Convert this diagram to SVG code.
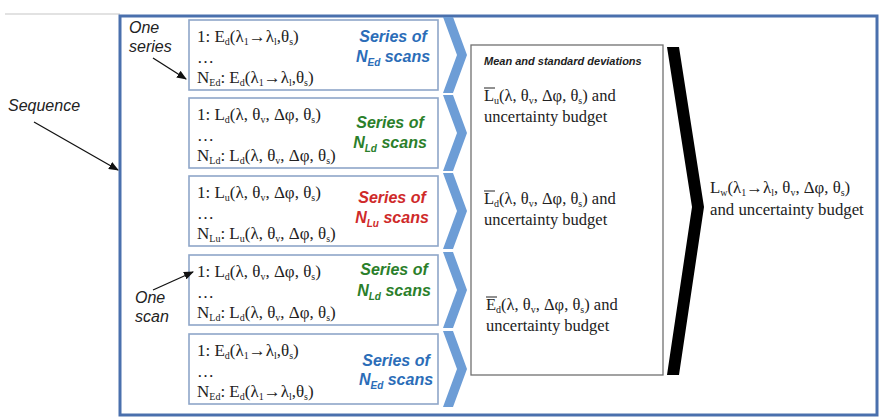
<svg xmlns="http://www.w3.org/2000/svg" width="884" height="418" viewBox="0 0 884 418">
<defs>
<marker id="ah" markerWidth="10" markerHeight="8" refX="9" refY="4" orient="auto" markerUnits="userSpaceOnUse">
<path d="M0,0 L10,4 L0,8 Z" fill="#111"/>
</marker>
<style>
.frame{fill:#fff;stroke:#4a70ad;stroke-width:3}
.box{fill:#fff;stroke:#8ea6c9;stroke-width:1.6}
.mbox{fill:#fff;stroke:#707070;stroke-width:1.3}
.chev{fill:#6d9dd6}
.f{font-family:"Liberation Serif","Times New Roman",serif;font-size:17px;fill:#222}
.m{font-family:"Liberation Serif","Times New Roman",serif;font-size:16.5px;fill:#222}
.s{font-size:10px}
.sl{font-family:"Liberation Sans",Arial,sans-serif;font-size:16px;font-weight:bold;font-style:italic;text-anchor:middle}
.ss{font-size:10px}
.blue{fill:#2b6db8}
.green{fill:#2b7f2b}
.red{fill:#cf2a2a}
.lab{font-family:"Liberation Sans",Arial,sans-serif;font-size:16px;font-style:italic;fill:#222}
.hd{font-family:"Liberation Sans",Arial,sans-serif;font-size:11px;font-weight:bold;font-style:italic;fill:#222}
.ln{stroke:#111;stroke-width:1.3;fill:none;marker-end:url(#ah)}
.ov{stroke:#222;stroke-width:1}
</style>
</defs>
<rect width="884" height="418" fill="#fff"/>
<line x1="5" y1="14" x2="120" y2="14" stroke="#d8d8d8" stroke-width="1.5"/>
<g id="sequence">
<rect class="frame" x="120" y="16" width="757" height="399"/>
</g>

<g id="series1">
<rect class="box" x="189" y="20" width="249" height="70"/>
<text class="f" x="197" y="42">1: E<tspan class="s" dy="3">d</tspan><tspan dy="-3">(λ</tspan><tspan class="s" dy="3">1</tspan><tspan dy="-3">→λ</tspan><tspan class="s" dy="3">l</tspan><tspan dy="-3">,θ</tspan><tspan class="s" dy="3">s</tspan><tspan dy="-3">)</tspan></text>
<text class="f" x="197" y="63">…</text>
<text class="f" x="197" y="83">N<tspan class="s" dy="3">Ed</tspan><tspan dy="-3">: E</tspan><tspan class="s" dy="3">d</tspan><tspan dy="-3">(λ</tspan><tspan class="s" dy="3">1</tspan><tspan dy="-3">→λ</tspan><tspan class="s" dy="3">l</tspan><tspan dy="-3">,θ</tspan><tspan class="s" dy="3">s</tspan><tspan dy="-3">)</tspan></text>
<text class="sl blue" x="393" y="42">Series of</text>
<text class="sl blue" x="393" y="62">N<tspan class="ss" dy="4">Ed</tspan><tspan dy="-4"> scans</tspan></text>
</g>

<g id="series2">
<rect class="box" x="189" y="98" width="249" height="70"/>
<text class="f" x="197" y="120">1: L<tspan class="s" dy="3">d</tspan><tspan dy="-3">(λ, θ</tspan><tspan class="s" dy="3">v</tspan><tspan dy="-3">, Δφ, θ</tspan><tspan class="s" dy="3">s</tspan><tspan dy="-3">)</tspan></text>
<text class="f" x="197" y="141">…</text>
<text class="f" x="197" y="161">N<tspan class="s" dy="3">Ld</tspan><tspan dy="-3">: L</tspan><tspan class="s" dy="3">d</tspan><tspan dy="-3">(λ, θ</tspan><tspan class="s" dy="3">v</tspan><tspan dy="-3">, Δφ, θ</tspan><tspan class="s" dy="3">s</tspan><tspan dy="-3">)</tspan></text>
<text class="sl green" x="390" y="128">Series of</text>
<text class="sl green" x="390" y="148">N<tspan class="ss" dy="4">Ld</tspan><tspan dy="-4"> scans</tspan></text>
</g>

<g id="series3">
<rect class="box" x="189" y="176" width="249" height="70"/>
<text class="f" x="197" y="198">1: L<tspan class="s" dy="3">u</tspan><tspan dy="-3">(λ, θ</tspan><tspan class="s" dy="3">v</tspan><tspan dy="-3">, Δφ, θ</tspan><tspan class="s" dy="3">s</tspan><tspan dy="-3">)</tspan></text>
<text class="f" x="197" y="219">…</text>
<text class="f" x="197" y="239">N<tspan class="s" dy="3">Lu</tspan><tspan dy="-3">: L</tspan><tspan class="s" dy="3">u</tspan><tspan dy="-3">(λ, θ</tspan><tspan class="s" dy="3">v</tspan><tspan dy="-3">, Δφ, θ</tspan><tspan class="s" dy="3">s</tspan><tspan dy="-3">)</tspan></text>
<text class="sl red" x="392" y="203">Series of</text>
<text class="sl red" x="392" y="223">N<tspan class="ss" dy="4">Lu</tspan><tspan dy="-4"> scans</tspan></text>
</g>

<g id="series4">
<rect class="box" x="189" y="255" width="249" height="70"/>
<text class="f" x="197" y="277">1: L<tspan class="s" dy="3">d</tspan><tspan dy="-3">(λ, θ</tspan><tspan class="s" dy="3">v</tspan><tspan dy="-3">, Δφ, θ</tspan><tspan class="s" dy="3">s</tspan><tspan dy="-3">)</tspan></text>
<text class="f" x="197" y="298">…</text>
<text class="f" x="197" y="318">N<tspan class="s" dy="3">Ld</tspan><tspan dy="-3">: L</tspan><tspan class="s" dy="3">d</tspan><tspan dy="-3">(λ, θ</tspan><tspan class="s" dy="3">v</tspan><tspan dy="-3">, Δφ, θ</tspan><tspan class="s" dy="3">s</tspan><tspan dy="-3">)</tspan></text>
<text class="sl green" x="394" y="275">Series of</text>
<text class="sl green" x="394" y="296">N<tspan class="ss" dy="4">Ld</tspan><tspan dy="-4"> scans</tspan></text>
</g>

<g id="series5">
<rect class="box" x="189" y="334" width="249" height="70"/>
<text class="f" x="197" y="356">1: E<tspan class="s" dy="3">d</tspan><tspan dy="-3">(λ</tspan><tspan class="s" dy="3">1</tspan><tspan dy="-3">→λ</tspan><tspan class="s" dy="3">l</tspan><tspan dy="-3">,θ</tspan><tspan class="s" dy="3">s</tspan><tspan dy="-3">)</tspan></text>
<text class="f" x="197" y="377">…</text>
<text class="f" x="197" y="397">N<tspan class="s" dy="3">Ed</tspan><tspan dy="-3">: E</tspan><tspan class="s" dy="3">d</tspan><tspan dy="-3">(λ</tspan><tspan class="s" dy="3">1</tspan><tspan dy="-3">→λ</tspan><tspan class="s" dy="3">l</tspan><tspan dy="-3">,θ</tspan><tspan class="s" dy="3">s</tspan><tspan dy="-3">)</tspan></text>
<text class="sl blue" x="396" y="366">Series of</text>
<text class="sl blue" x="396" y="385">N<tspan class="ss" dy="4">Ed</tspan><tspan dy="-4"> scans</tspan></text>
</g>

<g id="mean">
<rect class="mbox" x="471" y="45" width="192" height="330"/>
<text class="hd" x="484" y="65">Mean and standard deviations</text>
<line class="ov" x1="484" y1="88" x2="495" y2="88"/>
<text class="m" x="484" y="101">L<tspan class="s" dy="3">u</tspan><tspan dy="-3">(λ, θ</tspan><tspan class="s" dy="3">v</tspan><tspan dy="-3">, Δφ, θ</tspan><tspan class="s" dy="3">s</tspan><tspan dy="-3">) and</tspan></text>
<text class="m" x="484" y="122">uncertainty budget</text>
<line class="ov" x1="484" y1="191" x2="495" y2="191"/>
<text class="m" x="484" y="204">L<tspan class="s" dy="3">d</tspan><tspan dy="-3">(λ, θ</tspan><tspan class="s" dy="3">v</tspan><tspan dy="-3">, Δφ, θ</tspan><tspan class="s" dy="3">s</tspan><tspan dy="-3">) and</tspan></text>
<text class="m" x="484" y="225">uncertainty budget</text>
<line class="ov" x1="486" y1="297" x2="497" y2="297"/>
<text class="m" x="486" y="310">E<tspan class="s" dy="3">d</tspan><tspan dy="-3">(λ, θ</tspan><tspan class="s" dy="3">v</tspan><tspan dy="-3">, Δφ, θ</tspan><tspan class="s" dy="3">s</tspan><tspan dy="-3">) and</tspan></text>
<text class="m" x="486" y="331">uncertainty budget</text>
</g>

<g id="result">
<text class="m" x="710" y="193" style="font-size:16.8px">L<tspan class="s" dy="3">w</tspan><tspan dy="-3">(λ</tspan><tspan class="s" dy="3">1</tspan><tspan dy="-3">→λ</tspan><tspan class="s" dy="3">l</tspan><tspan dy="-3">, θ</tspan><tspan class="s" dy="3">v</tspan><tspan dy="-3">, Δφ, θ</tspan><tspan class="s" dy="3">s</tspan><tspan dy="-3">)</tspan></text>
<text class="m" x="710" y="215" style="font-size:16.8px">and uncertainty budget</text>
</g>

<g id="labels">
<text class="lab" x="129" y="33">One</text>
<text class="lab" x="129" y="52">series</text>
<text class="lab" x="8" y="111">Sequence</text>
<text class="lab" x="135" y="303">One</text>
<text class="lab" x="135" y="322">scan</text>
</g>

<g id="connectors">
<polygon class="chev" points="443,17 453,17 467,55 453,93 443,93 457,55"/>
<polygon class="chev" points="443,95 453,95 467,133 453,171 443,171 457,133"/>
<polygon class="chev" points="443,173 453,173 467,211 453,249 443,249 457,211"/>
<polygon class="chev" points="443,252 453,252 467,290 453,328 443,328 457,290"/>
<polygon class="chev" points="443,331 453,331 467,369 453,407 443,407 457,369"/>
<polygon fill="#000" points="667,47 679,47 704,207 679,375 667,375 692,207"/>
<line class="ln" x1="153" y1="58" x2="186" y2="79"/>
<line class="ln" x1="34" y1="122" x2="118" y2="170"/>
<line class="ln" x1="153" y1="290" x2="193" y2="272"/>
</g>
</svg>
